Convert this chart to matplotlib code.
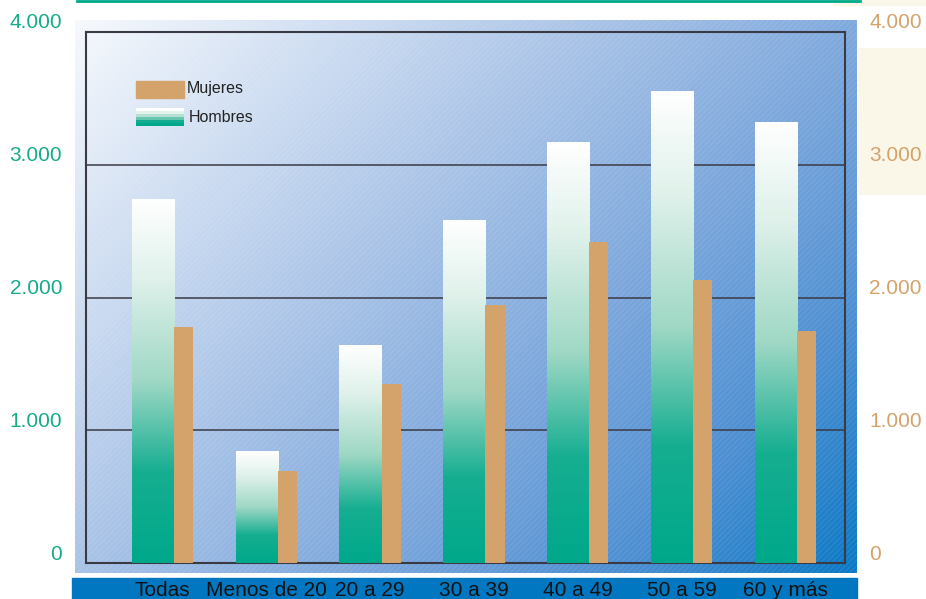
import numpy as np
import matplotlib
matplotlib.use("Agg")
import matplotlib.pyplot as plt
from matplotlib.colors import LinearSegmentedColormap
from matplotlib.patches import Rectangle
from matplotlib.lines import Line2D
import matplotlib.transforms as mtrans

categorias = ["Todas", "Menos de 20", "20 a 29", "30 a 39", "40 a 49", "50 a 59", "60 y más"]
hombres = [2735, 840, 1640, 2580, 3170, 3555, 3315]
mujeres = [1780, 690, 1350, 1940, 2420, 2135, 1745]
ticks = [0, 1000, 2000, 3000, 4000]
tick_labels = ["0", "1.000", "2.000", "3.000", "4.000"]

plt.rcParams['font.family'] = ['Liberation Sans', 'DejaVu Sans']
plt.rcParams['hatch.linewidth'] = 0.6

W, H = 926, 599
fig = plt.figure(figsize=(W / 100, H / 100), dpi=100)
fig.patch.set_facecolor("white")


def fbox(x0, y0, x1, y1):
    # pixel box (from top-left) -> figure fraction rect
    return [x0 / W, 1 - y1 / H, (x1 - x0) / W, (y1 - y0) / H]


# decorations
fig.patches.append(Rectangle((833 / W, 1 - 5 / H), (W - 833) / W, 5 / H,
                             transform=fig.transFigure, color="#fbf7e8", zorder=0))
fig.patches.append(Rectangle((858 / W, 1 - 194 / H), (W - 858) / W, (194 - 48) / H,
                             transform=fig.transFigure, color="#fbf7e8", zorder=0))
fig.lines.append(Line2D([77 / W, 860 / W], [1 - 1 / H, 1 - 1 / H],
                        transform=fig.transFigure, color="#00a88a", lw=2))
fig.patches.append(Rectangle((72 / W, 0), (857 - 72) / W, (H - 578) / H,
                             transform=fig.transFigure, color="#0077c0", zorder=0))

# background panel with diagonal gradient
bg_cmap = LinearSegmentedColormap.from_list(
    "bg", [(0, "#f6f9fd"), (0.4, "#a9c3e7"), (0.62, "#7ca7dc"),
           (0.82, "#4d8fd2"), (1, "#0b79c5")])
bg = fig.add_axes(fbox(75, 20, 857, 573))
xs = np.linspace(0, 1, 300)
ys = np.linspace(0, 1, 200)
X, Y = np.meshgrid(xs, ys)
bg.imshow(0.6 * X + 0.4 * Y, cmap=bg_cmap, aspect="auto", extent=[0, 1, 1, 0],
          vmin=0, vmax=1)
bg.add_patch(Rectangle((0, 0), 1, 1, transform=bg.transAxes, fill=False,
                       hatch="//////", edgecolor=(1, 1, 1, 0.12), lw=0))
bg.set_xlim(0, 1)
bg.set_ylim(1, 0)
bg.axis("off")

# main axes
ax = fig.add_axes(fbox(86, 32, 845, 563))
ax.set_facecolor("none")
x = np.arange(len(categorias))

h_cmap = LinearSegmentedColormap.from_list(
    "hom", [(0, "#00a88a"), (0.25, "#16ae91"), (0.5, "#9fd8c5"),
            (0.78, "#dff1ea"), (1, "#ffffff")])
grad = np.linspace(1, 0, 256).reshape(-1, 1)

barras_h = ax.bar(x - 0.295, hombres, width=0.405, align="edge",
                  color="none", edgecolor="none", zorder=3)
for b in barras_h:
    ax.imshow(grad, cmap=h_cmap, aspect="auto", zorder=3, vmin=0, vmax=1,
              extent=[b.get_x(), b.get_x() + b.get_width(), 0, b.get_height()])
ax.bar(x + 0.110, mujeres, width=0.185, align="edge", color="#d4a26b", zorder=3)

ax.set_xlim(-0.737, 6.575)
ax.set_ylim(0, 4000)
for t in ticks[1:-1]:
    ax.axhline(t, color="#3a3a44", lw=1.1, zorder=2)
for s in ax.spines.values():
    s.set_color("#3a3a44")
    s.set_linewidth(1.5)
ax.set_xticks([])
ax.set_yticks([])

# tick labels (shifted up a bit like the original)
up = mtrans.offset_copy(ax.transData, fig=fig, x=0, y=9, units="dots")
left_tr = mtrans.blended_transform_factory(fig.transFigure, up)
for t, lab in zip(ticks, tick_labels):
    fig.text(62 / W, t, lab, transform=left_tr, ha="right", va="center",
             fontsize=15, color="#17ab8a")
    fig.text(869 / W, t, lab, transform=left_tr, ha="left", va="center",
             fontsize=15, color="#d4a26b")

# category labels in the blue band
cat_tr = mtrans.blended_transform_factory(ax.transData, fig.transFigure)
for xi, c in zip(x, categorias):
    fig.text(xi, 1 - 591 / H, c, transform=cat_tr, ha="center", va="center",
             fontsize=15, color="#111111", zorder=6)

# legend
fig.patches.append(Rectangle((136 / W, 1 - 98 / H), 48 / W, 17 / H,
                             transform=fig.transFigure, color="#d4a26b", zorder=5))
lg = fig.add_axes(fbox(136, 108, 184, 126))
lg.imshow(np.linspace(1, 0, 6).reshape(-1, 1), cmap=h_cmap, aspect="auto",
          vmin=0, vmax=1, interpolation="nearest")
lg.axis("off")
fig.text(187 / W, 1 - 89 / H, "Mujeres", ha="left", va="center",
         fontsize=11.5, color="#222222", zorder=6)
fig.text(189 / W, 1 - 117 / H, "Hombres", ha="left", va="center",
         fontsize=11.5, color="#222222", zorder=6)

fig.savefig("out.png", dpi=100)
